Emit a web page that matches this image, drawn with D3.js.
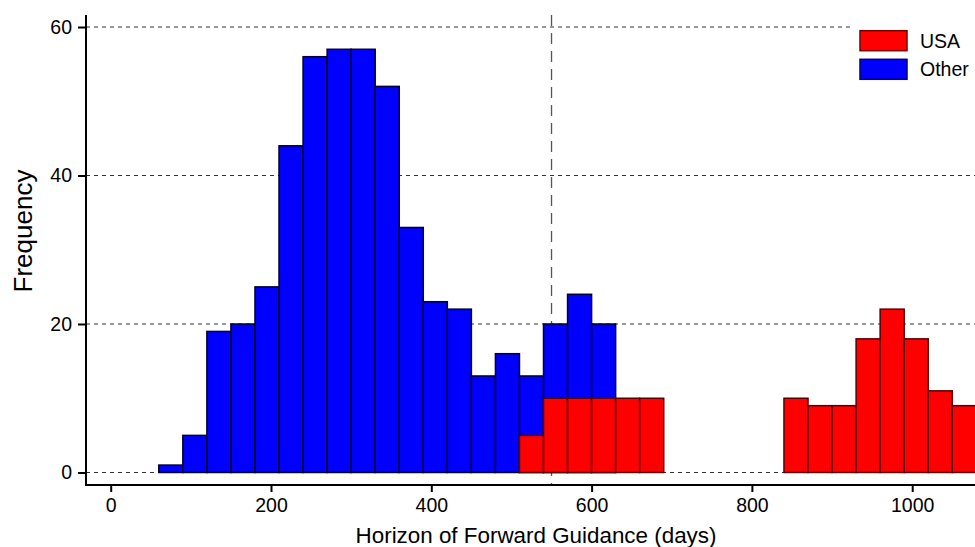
<!DOCTYPE html>
<html>
<head>
<meta charset="utf-8">
<script src="https://cdn.jsdelivr.net/npm/d3@7"></script>
<style>
  html, body { margin: 0; padding: 0; background: #fff; }
  svg { display: block; font-family: "Liberation Sans", Arial, sans-serif; }
</style>
</head>
<body>
<svg id="chart" width="975" height="547"></svg>
<script>
// Histogram bins (lower edge, days) and counts
const binWidth = 30;
const otherStarts = [60, 90, 120, 150, 180, 210, 240, 270, 300, 330, 360, 390, 420, 450, 480, 510, 540, 570, 600];
const otherCounts = [1, 5, 19, 20, 25, 44, 56, 57, 57, 52, 33, 23, 22, 13, 16, 13, 20, 24, 20];
const usaStarts = [510, 540, 570, 600, 630, 660, 840, 870, 900, 930, 960, 990, 1020, 1050];
const usaCounts = [5, 10, 10, 10, 10, 10, 10, 9, 9, 18, 22, 18, 11, 9];

const xTicks = [0, 200, 400, 600, 800, 1000];
const yTicks = [0, 20, 40, 60];
const refLine = 550;

const legendItems = ['USA', 'Other'];
const colours = { USA: '#ff0000', Other: '#0000ff' };
const strokes = { USA: '#5a0000', Other: '#00002e' };

const svg = d3.select('#chart');

// Plot frame
const axisX = 86, axisY = 485, plotTop = 15, plotRight = 990;

const x = d3.scaleLinear().domain([0, 1000]).range([110.7, 912.2]);
const y = d3.scaleLinear().domain([0, 60]).range([472.5, 27]);

// Grid lines
svg.append('g')
    .selectAll('line')
    .data(yTicks)
    .enter()
    .append('line')
    .attr('x1', axisX)
    .attr('x2', plotRight)
    .attr('y1', d => y(d))
    .attr('y2', d => y(d))
    .attr('stroke', '#333')
    .attr('stroke-width', 1.2)
    .attr('stroke-dasharray', '4,4');

// Reference line at 550 days
svg.append('line')
    .attr('x1', x(refLine))
    .attr('x2', x(refLine))
    .attr('y1', plotTop)
    .attr('y2', axisY)
    .attr('stroke', '#555')
    .attr('stroke-width', 1.3)
    .attr('stroke-dasharray', '11,7');

// Bars: Other first, USA overlaid on top
const drawBars = (starts, counts, key) => {
    svg.append('g')
        .selectAll('rect')
        .data(starts.map((s, i) => ({ s, c: counts[i] })))
        .enter()
        .append('rect')
        .attr('x', d => x(d.s))
        .attr('y', d => y(d.c))
        .attr('width', d => x(d.s + binWidth) - x(d.s))
        .attr('height', d => y(0) - y(d.c))
        .attr('fill', colours[key])
        .attr('stroke', strokes[key])
        .attr('stroke-width', 1.5);
};
drawBars(otherStarts, otherCounts, 'Other');
drawBars(usaStarts, usaCounts, 'USA');

// Axes
const xAxis = svg.append('g')
    .attr('transform', `translate(0,${axisY})`)
    .call(d3.axisBottom(x).tickValues(xTicks).tickFormat(d3.format('d'))
        .tickSize(7).tickPadding(6).tickSizeOuter(0));
xAxis.select('.domain').remove();
xAxis.append('line')
    .attr('x1', axisX - 1).attr('x2', plotRight)
    .attr('stroke', '#000').attr('stroke-width', 2);

const yAxis = svg.append('g')
    .attr('transform', `translate(${axisX},0)`)
    .call(d3.axisLeft(y).tickValues(yTicks).tickFormat(d3.format('d'))
        .tickSize(8).tickPadding(6).tickSizeOuter(0));
yAxis.select('.domain').remove();
yAxis.append('line')
    .attr('y1', plotTop).attr('y2', axisY + 1)
    .attr('stroke', '#000').attr('stroke-width', 2);

svg.selectAll('.tick line').attr('stroke', '#000').attr('stroke-width', 2);
svg.selectAll('.tick text')
    .attr('fill', '#000')
    .style('font-size', '19.5px')
    .style('font-family', '"Liberation Sans", Arial, sans-serif');

// Axis titles
svg.append('text')
    .attr('x', 536)
    .attr('y', 543)
    .attr('text-anchor', 'middle')
    .style('font-size', '22.4px')
    .text('Horizon of Forward Guidance (days)');

svg.append('text')
    .attr('transform', 'translate(32,231) rotate(-90)')
    .attr('text-anchor', 'middle')
    .style('font-size', '26px')
    .text('Frequency');

// Legend
const legend = svg.append('g');
legend.append('rect')
    .attr('x', 850).attr('y', 18)
    .attr('width', 130).attr('height', 72)
    .attr('fill', '#fff');

const item = legend.selectAll('g.item')
    .data(legendItems)
    .enter()
    .append('g')
    .attr('class', 'item')
    .attr('transform', (d, i) => `translate(860,${30.7 + i * 28.6})`);

item.append('rect')
    .attr('width', 47).attr('height', 20)
    .attr('fill', d => colours[d])
    .attr('stroke', d => d === 'USA' ? '#7a0000' : '#000070')
    .attr('stroke-width', 1.5);

item.append('text')
    .attr('x', 60)
    .attr('y', 17)
    .style('font-size', '19.5px')
    .text(d => d);
</script>
</body>
</html>
